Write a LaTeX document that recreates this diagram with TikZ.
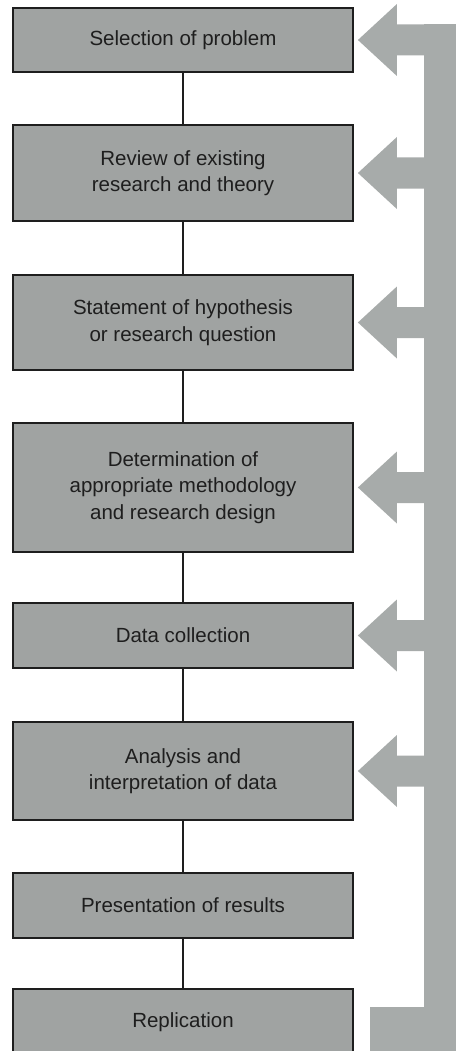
\documentclass[tikz,border=0pt]{standalone}
\usepackage{fontspec}
\setmainfont{Liberation Sans}
\definecolor{boxgray}{RGB}{160,163,162}
\definecolor{fbgray}{RGB}{167,171,170}
\definecolor{ink}{RGB}{30,30,30}
\begin{document}
\begin{tikzpicture}[x=1pt, y=-1pt, line join=miter, font=\fontsize{20.5}{26.5}\selectfont,
	stage/.style={draw=ink, line width=1.8pt, fill=boxgray, text=ink, align=center, minimum width=340pt, inner sep=0pt},
	link/.style={draw=ink, line width=1.5pt},
	feedback/.style={fill=fbgray}]
			\def\cx{183}
			\useasboundingbox (0,0) rectangle (455,1051);
			% Thanh phản hồi bên phải
			\fill[feedback] (424,24.5) rectangle (460,1060);
			\fill[feedback] (370,1007) rectangle (460,1060);
			% Các bước
			\node[stage, minimum height=64pt] (sel) at (\cx,40) {Selection of problem};
			\node[stage, minimum height=96pt] (rev) at (\cx,173) {Review of existing\\research and theory};
			\node[stage, minimum height=95pt] (hyp) at (\cx,322.5) {Statement of hypothesis\\or research question};
			\node[stage, minimum height=129pt] (meth) at (\cx,487.5) {Determination of\\appropriate methodology\\and research design};
			\node[stage, minimum height=65pt] (coll) at (\cx,635.5) {Data collection};
			\node[stage, minimum height=98pt] (anal) at (\cx,771) {Analysis and\\interpretation of data};
			\node[stage, minimum height=65pt] (pres) at (\cx,905.5) {Presentation of results};
			\node[stage, minimum height=66pt] (repl) at (\cx,1022) {Replication};
			%
			\draw[link] (sel) -- (rev) (rev) -- (hyp) (hyp) -- (meth) (meth) -- (coll)
			(coll) -- (anal) (anal) -- (pres) (pres) -- (repl);
			% Mũi tên quay lại
			\foreach \n in {sel,rev,hyp,meth,coll,anal}
			\fill[feedback] ([xshift=4pt]\n.east) --++(39,-36) --++(0,20.5) --++(30,0) --++(0,31) --++(-30,0) --++(0,20.5) -- cycle;
\end{tikzpicture}
\end{document}
